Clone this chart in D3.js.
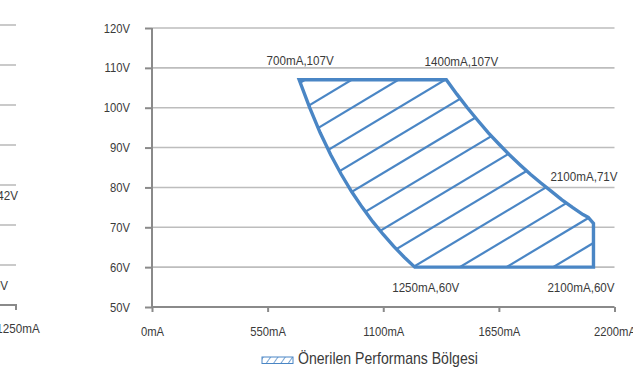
<!DOCTYPE html>
<html>
<head>
<meta charset="utf-8">
<script src="https://cdn.jsdelivr.net/npm/d3@7"></script>
<style>
  html, body { margin: 0; padding: 0; background: #ffffff; }
  svg { display: block; }
  text { font-family: "Liberation Sans", Arial, sans-serif; fill: #3a3a3a; }
</style>
</head>
<body>
<svg id="chart" width="633" height="367"></svg>
<script>
// ---- data ----
const yTicks = [50, 60, 70, 80, 90, 100, 110, 120];
const xTicks = [0, 550, 1100, 1650, 2200];
// boundary of the recommended region (mA, V)
const regionCurrent = [700, 1400, 1450, 1500, 1550, 1600, 1650, 1700, 1750, 1800, 1850, 1900, 1950, 2000, 2050, 2075, 2100, 2100,
                       1250, 1200, 1150, 1100, 1050, 1000, 950, 900, 850, 800, 750];
const regionVoltage = [107, 107, 103.4, 100, 96.8, 93.7, 90.9, 88.2, 85.7, 83.3, 81.1, 79, 76.9, 75, 73.2, 72.5, 71, 60,
                       60, 62.5, 65.2, 68.2, 71.4, 75, 78.9, 83.3, 88.2, 93.7, 100];
const labelCurrent = [700, 1400, 2100, 1250, 2100];
const labelVoltage = [107, 107, 71, 60, 60];
const labelText = ["700mA,107V", "1400mA,107V", "2100mA,71V", "1250mA,60V", "2100mA,60V"];
const legendText = "Önerilen Performans Bölgesi";
// fragment of the neighbouring chart at the left edge
const leftGridCount = [0, 1, 2, 3, 4, 5, 6, 7];
const leftLabels = ["1250mA,42V", "1250mA,30V"];
const leftXLabel = "1250mA";

// ---- layout / style ----
const blue = "#4a86c5";
const gridColor = "#bdbdbd";
const axisColor = "#8a8a8a";
const labelOffsets = [[1, -15], [15, -14], [-9.5, -42], [11, 24.5], [-12.5, 24.5]];

// horizontally condense a text element (font is a condensed grotesque)
function condense(sel, s) {
  sel.each(function () {
    const t = d3.select(this);
    const x0 = +t.attr("x") || 0;
    t.attr("x", x0 / s).attr("transform", `scale(${s},1)`);
  });
}

const svg = d3.select("#chart");
const x = d3.scaleLinear().domain([0, 2200]).range([152, 614.5]);
const y = d3.scaleLinear().domain([50, 120]).range([307, 28]);

// gridlines
svg.append("g").selectAll("line").data(yTicks.filter(d => d > 50)).join("line")
  .attr("x1", x(0)).attr("x2", x(2200))
  .attr("y1", d => y(d)).attr("y2", d => y(d))
  .attr("stroke", gridColor).attr("stroke-width", 1.6);

// axes
const yAxis = svg.append("g").attr("transform", `translate(${x(0)},0)`)
  .call(d3.axisLeft(y).tickValues(yTicks).tickSize(7).tickPadding(15).tickFormat(d => d + "V"));
const xAxis = svg.append("g").attr("transform", `translate(0,${y(50)})`)
  .call(d3.axisBottom(x).tickValues(xTicks).tickSize(5).tickPadding(15.5).tickFormat(d => d + "mA"));
[yAxis, xAxis].forEach(g => {
  g.select(".domain").attr("stroke", axisColor).attr("stroke-width", 2);
  g.selectAll(".tick line").attr("stroke", axisColor).attr("stroke-width", 2);
  g.attr("font-family", null);
  g.selectAll("text").attr("fill", "#3a3a3a").style("font-size", "12.5px").call(condense, 0.9);
});
yAxis.select(".domain").attr("d", `M0,${y(50)}V${y(120)}`);
xAxis.select(".domain").attr("d", `M${x(0)},0H${x(2200)}`);

// region polygon
const pts = regionCurrent.map((c, i) => [x(c), y(regionVoltage[i])]);
const areaPath = d3.line().curve(d3.curveLinearClosed)(pts);

const defs = svg.append("defs");
defs.append("clipPath").attr("id", "regionClip").append("path").attr("d", areaPath);

// hatch lines, clipped to the region
const yTop = y(107), yBottom = y(60);
const slope = 0.6, step = 46.7, c0 = x(700) + 52.5;
const hatchCs = d3.range(-6, 16).map(k => c0 + k * step);
svg.append("g").attr("clip-path", "url(#regionClip)")
  .selectAll("line").data(hatchCs).join("line")
  .attr("x1", c => c + 40 / slope).attr("y1", yTop - 40)
  .attr("x2", c => c - (yBottom - yTop + 40) / slope).attr("y2", yBottom + 40)
  .attr("stroke", blue).attr("stroke-width", 2.2);

svg.append("path").attr("d", areaPath)
  .attr("fill", "none").attr("stroke", blue).attr("stroke-width", 3.4)
  .attr("stroke-linejoin", "miter");

// point labels
svg.append("g").selectAll("text").data(labelText).join("text")
  .attr("x", (d, i) => x(labelCurrent[i]) + labelOffsets[i][0])
  .attr("y", (d, i) => y(labelVoltage[i]) + labelOffsets[i][1])
  .attr("text-anchor", "middle").style("font-size", "12.5px")
  .text(d => d)
  .call(condense, 0.93);

// legend
const pat = defs.append("pattern").attr("id", "legendHatch")
  .attr("patternUnits", "userSpaceOnUse").attr("width", 6).attr("height", 6)
  .attr("patternTransform", "rotate(35)");
pat.append("line").attr("x1", 0).attr("y1", 0).attr("x2", 0).attr("y2", 6)
  .attr("stroke", blue).attr("stroke-width", 1.5);
svg.append("rect").attr("x", 262).attr("y", 357).attr("width", 31).attr("height", 6.5)
  .attr("fill", "url(#legendHatch)").attr("stroke", blue).attr("stroke-width", 1);
svg.append("text").attr("x", 298).attr("y", 364).style("font-size", "16px").text(legendText)
  .call(condense, 0.88);

// left-edge fragment of neighbouring chart
const yl = d3.scaleLinear().domain([0, 7]).range([305, 25]);
svg.append("g").selectAll("line").data(leftGridCount.filter(d => d > 0)).join("line")
  .attr("x1", 0).attr("x2", 16).attr("y1", d => yl(d)).attr("y2", d => yl(d))
  .attr("stroke", gridColor).attr("stroke-width", 1.6);
svg.append("path").attr("d", `M0,${yl(0)}H16V${yl(0) + 5}`)
  .attr("fill", "none").attr("stroke", axisColor).attr("stroke-width", 2);
const leftG = svg.append("g").style("font-size", "12.5px");
leftG.append("text").attr("x", 18).attr("y", 200).attr("text-anchor", "end").text(leftLabels[0]);
leftG.append("text").attr("x", 8).attr("y", 290).attr("text-anchor", "end").text(leftLabels[1]);
leftG.append("text").attr("x", 18).attr("y", 333).attr("text-anchor", "middle").text(leftXLabel);
leftG.selectAll("text").call(condense, 0.93);
</script>
</body>
</html>
